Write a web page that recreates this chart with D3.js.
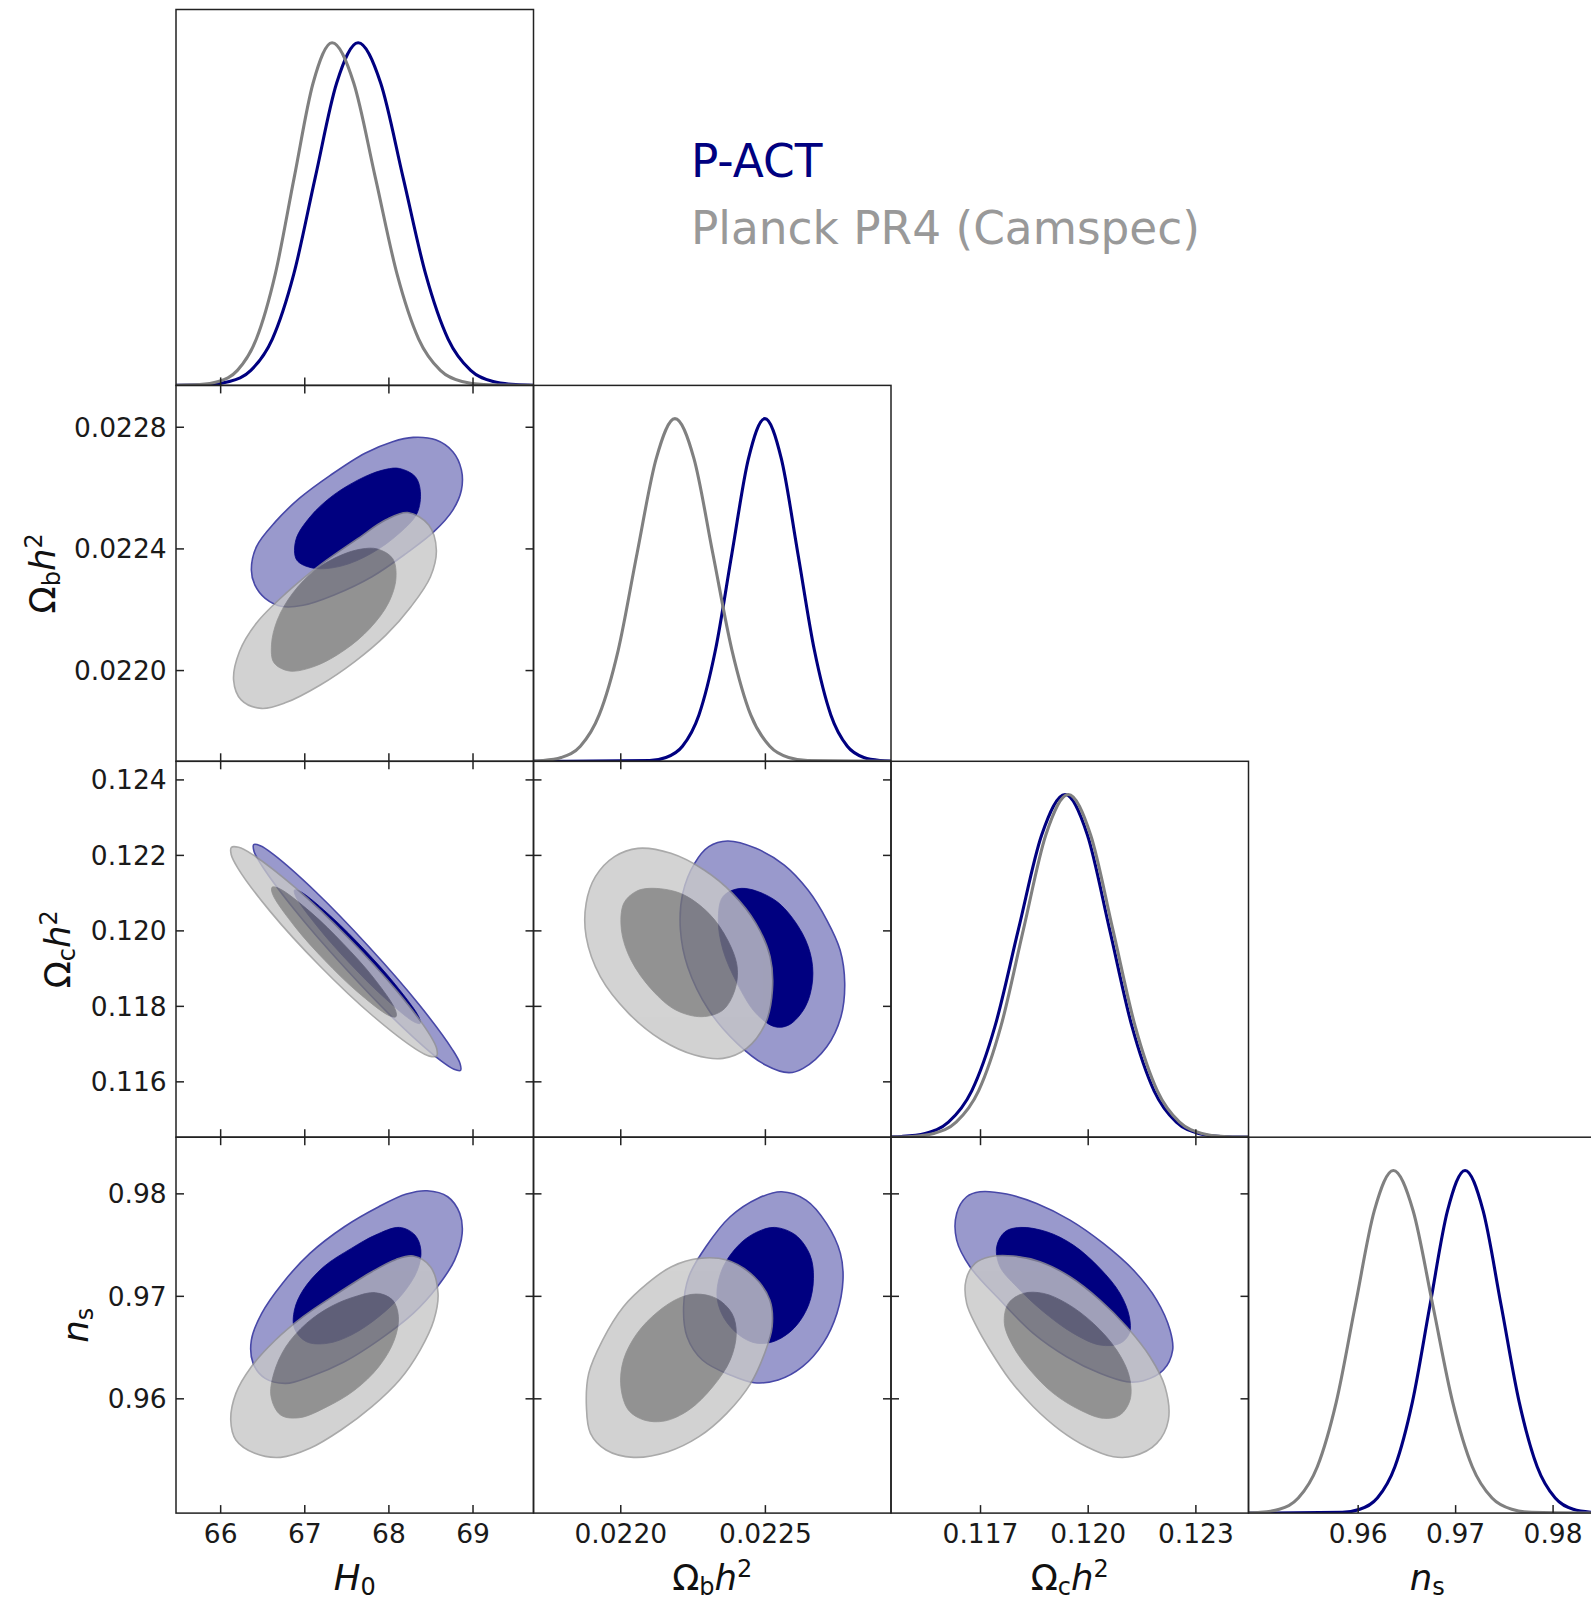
<!DOCTYPE html>
<html><head><meta charset="utf-8">
<script src="https://cdn.jsdelivr.net/npm/d3@7"></script>
<style>
html,body{margin:0;padding:0;background:#fff;}
svg{display:block;}
</style></head><body>
<svg id="chart" width="1591" height="1603"></svg>
<script>
// ================= DATA =================
const params = ["H0", "Obh2", "Och2", "ns"];
const domains = {H0: [65.475, 69.725], Obh2: [0.0217, 0.022936], Och2: [0.11452, 0.12448], ns: [0.9488, 0.98548]};

const xTicks = {H0: [66, 67, 68, 69], Obh2: [0.0220, 0.0225], Och2: [0.117, 0.120, 0.123], ns: [0.96, 0.97, 0.98]};
const xTickLabels = {H0: ["66", "67", "68", "69"], Obh2: ["0.0220", "0.0225"], Och2: ["0.117", "0.120", "0.123"], ns: ["0.96", "0.97", "0.98"]};
const yTicks = {Obh2: [0.0220, 0.0224, 0.0228], Och2: [0.116, 0.118, 0.120, 0.122, 0.124], ns: [0.96, 0.97, 0.98]};
const yTickLabels = {Obh2: ["0.0220", "0.0224", "0.0228"], Och2: ["0.116", "0.118", "0.120", "0.122", "0.124"], ns: ["0.96", "0.97", "0.98"]};

const seriesNames = ["P-ACT", "Planck PR4 (Camspec)"];

// ---- 1D marginals [value, normalised density] ----
const pact_H0_1d = [[65.475,0.0001],[65.855,0.0022],[66.11,0.0111],[66.365,0.0439],[66.62,0.1353],[66.875,0.3247],[67.13,0.6065],[67.385,0.8825],[67.64,1],[67.908,0.8825],[68.175,0.6065],[68.443,0.3247],[68.71,0.1353],[68.978,0.0439],[69.245,0.0111],[69.513,0.0022],[69.725,0.0005]];
const planck_H0_1d = [[65.475,0.0005],[65.755,0.0022],[65.98,0.0111],[66.205,0.0439],[66.43,0.1353],[66.655,0.3247],[66.88,0.6065],[67.105,0.8825],[67.33,1],[67.588,0.8825],[67.845,0.6065],[68.103,0.3247],[68.36,0.1353],[68.618,0.0439],[68.875,0.0111],[69.133,0.0022],[69.725,0.0001]];
const pact_Obh2_1d = [[0.0217,0],[0.022101,0.0022],[0.022158,0.0111],[0.022215,0.0439],[0.022272,0.1353],[0.022329,0.3247],[0.022386,0.6065],[0.022443,0.8825],[0.0225,1],[0.022557,0.8825],[0.022614,0.6065],[0.022671,0.3247],[0.022728,0.1353],[0.022785,0.0439],[0.022842,0.0111],[0.022899,0.0022],[0.022936,0.0007]];
const planck_Obh2_1d = [[0.0217,0.0009],[0.021731,0.0022],[0.021796,0.0111],[0.021862,0.0439],[0.021927,0.1353],[0.021993,0.3247],[0.022058,0.6065],[0.022124,0.8825],[0.022189,1],[0.022255,0.8825],[0.02232,0.6065],[0.022386,0.3247],[0.022451,0.1353],[0.022517,0.0439],[0.022582,0.0111],[0.022648,0.0022],[0.022936,0]];
const pact_Och2_1d = [[0.11452,0.0009],[0.11482,0.0022],[0.11547,0.0111],[0.11612,0.0439],[0.11677,0.1353],[0.11742,0.3247],[0.11807,0.6065],[0.11872,0.8825],[0.11937,1],[0.11999,0.8825],[0.12061,0.6065],[0.12123,0.3247],[0.12185,0.1353],[0.12247,0.0439],[0.12309,0.0111],[0.12371,0.0022],[0.12448,0.0001]];
const planck_Och2_1d = [[0.11452,0.0005],[0.115085,0.0022],[0.11571,0.0111],[0.116335,0.0439],[0.11696,0.1353],[0.117585,0.3247],[0.11821,0.6065],[0.118835,0.8825],[0.11946,1],[0.12008,0.8825],[0.1207,0.6065],[0.12132,0.3247],[0.12194,0.1353],[0.12256,0.0439],[0.12318,0.0111],[0.1238,0.0022],[0.12448,0.0003]];
const pact_ns_1d = [[0.9488,0],[0.95842,0.0022],[0.96022,0.0111],[0.96202,0.0439],[0.96382,0.1353],[0.96562,0.3247],[0.96742,0.6065],[0.96922,0.8825],[0.97102,1],[0.97287,0.8825],[0.97472,0.6065],[0.97657,0.3247],[0.97842,0.1353],[0.98027,0.0439],[0.98212,0.0111],[0.98397,0.0022],[0.98548,0.0003]];
const planck_ns_1d = [[0.9488,0.0008],[0.95001,0.0022],[0.95196,0.0111],[0.95391,0.0439],[0.95586,0.1353],[0.95781,0.3247],[0.95976,0.6065],[0.96171,0.8825],[0.96366,1],[0.96569,0.8825],[0.96771,0.6065],[0.96974,0.3247],[0.97176,0.1353],[0.97379,0.0439],[0.97581,0.0111],[0.97784,0.0022],[0.98548,0]];

// ---- 2D contours (68% inner, 95% outer), [x, y] in parameter units ----
const pact_H0_Obh2_outer = [[66.371,0.022329],[66.432,0.022406],[66.658,0.022488],[66.944,0.022565],[67.313,0.022641],[67.722,0.022713],[68.050,0.022751],[68.295,0.022765],[68.561,0.022757],[68.766,0.022718],[68.868,0.022658],[68.868,0.022592],[68.766,0.022526],[68.541,0.022455],[68.213,0.022384],[67.804,0.022307],[67.354,0.022247],[66.985,0.022213],[66.740,0.022209],[66.535,0.022236],[66.412,0.022280]];
const pact_H0_Obh2_inner = [[68.13,0.022663],[68.32,0.022636],[68.38,0.022587],[68.34,0.022515],[68.13,0.022450],[67.80,0.022384],[67.44,0.022342],[67.11,0.022335],[66.91,0.022362],[66.90,0.022428],[67.07,0.022504],[67.35,0.022576],[67.72,0.022636],[67.97,0.022660]];
const planck_H0_Obh2_outer = [[68.23,0.022518],[68.48,0.022477],[68.57,0.022395],[68.50,0.022307],[68.27,0.022209],[67.97,0.022115],[67.60,0.022028],[67.19,0.021951],[66.78,0.021893],[66.49,0.021874],[66.25,0.021902],[66.16,0.021967],[66.23,0.022061],[66.43,0.022154],[66.78,0.022252],[67.19,0.022346],[67.64,0.022433],[67.97,0.022494]];
const planck_H0_Obh2_inner = [[67.87,0.022398],[68.05,0.022367],[68.09,0.022302],[68.00,0.022220],[67.78,0.022137],[67.48,0.022066],[67.13,0.022013],[66.82,0.021997],[66.64,0.022024],[66.61,0.022083],[66.68,0.022165],[66.86,0.022252],[67.13,0.022329],[67.44,0.022378],[67.68,0.022398]];

const pact_H0_Och2_outer = [[68.857,0.116292],[68.852,0.116470],[68.763,0.116835],[68.364,0.118036],[67.768,0.119567],[67.135,0.121024],[66.633,0.122013],[66.477,0.122241],[66.399,0.122270],[66.403,0.122092],[66.493,0.121727],[66.892,0.120526],[67.488,0.118995],[68.121,0.117537],[68.623,0.116549],[68.780,0.116321]];
const pact_H0_Och2_inner = [[68.378,0.117535],[68.363,0.117702],[68.080,0.118573],[67.717,0.119485],[67.331,0.120343],[66.957,0.121024],[66.883,0.121070],[66.898,0.120900],[67.181,0.120031],[67.544,0.119119],[67.930,0.118261],[68.303,0.117577]];
const planck_H0_Och2_outer = [[68.573,0.116668],[68.575,0.116859],[68.495,0.117225],[68.109,0.118372],[67.523,0.119806],[66.890,0.121138],[66.381,0.122015],[66.219,0.122201],[66.134,0.122201],[66.131,0.122010],[66.212,0.121645],[66.597,0.120497],[67.183,0.119064],[67.817,0.117731],[68.326,0.116854],[68.487,0.116668]];
const planck_H0_Och2_inner = [[68.090,0.117712],[68.083,0.117892],[67.815,0.118767],[67.460,0.119654],[67.078,0.120478],[66.697,0.121115],[66.616,0.121141],[66.623,0.120961],[66.893,0.120086],[67.246,0.119199],[67.630,0.118375],[68.010,0.117739]];

const pact_Obh2_Och2_outer = [[0.022371,0.122368],[0.022469,0.122174],[0.022567,0.121732],[0.022649,0.121070],[0.022714,0.120275],[0.022760,0.119480],[0.022776,0.118597],[0.022763,0.117713],[0.022714,0.116918],[0.022632,0.116344],[0.022583,0.116230],[0.022502,0.116433],[0.022404,0.117007],[0.022306,0.117890],[0.022233,0.119038],[0.022208,0.120010],[0.022216,0.120981],[0.022257,0.121776],[0.022306,0.122218]];
const pact_Obh2_Och2_inner = [[0.022420,0.121114],[0.022534,0.120805],[0.022616,0.120098],[0.022657,0.119391],[0.022665,0.118685],[0.022640,0.117978],[0.022583,0.117493],[0.022534,0.117448],[0.022469,0.117802],[0.022404,0.118597],[0.022355,0.119480],[0.022339,0.120275],[0.022355,0.120893]];
const planck_Obh2_Och2_outer = [[0.022061,0.122174],[0.022175,0.122041],[0.022290,0.121599],[0.022388,0.120981],[0.022469,0.120186],[0.022518,0.119303],[0.022526,0.118420],[0.022502,0.117537],[0.022437,0.116874],[0.022355,0.116609],[0.022257,0.116698],[0.022143,0.117095],[0.022029,0.117802],[0.021931,0.118773],[0.021882,0.119833],[0.021882,0.120716],[0.021914,0.121423],[0.021980,0.121953]];
const planck_Obh2_Och2_inner = [[0.022102,0.121114],[0.022208,0.120981],[0.022306,0.120451],[0.022371,0.119745],[0.022404,0.119038],[0.022396,0.118420],[0.022355,0.117890],[0.022282,0.117713],[0.022192,0.117890],[0.022110,0.118420],[0.022037,0.119215],[0.022004,0.120010],[0.022012,0.120716],[0.022053,0.121025]];

const pact_H0_ns_outer = [[68.459,0.980254],[68.705,0.979669],[68.848,0.978043],[68.877,0.976092],[68.787,0.973491],[68.582,0.970890],[68.295,0.968288],[67.886,0.965687],[67.477,0.963573],[67.067,0.962110],[66.781,0.961460],[66.535,0.961947],[66.392,0.963411],[66.371,0.965687],[66.494,0.968288],[66.740,0.971215],[67.067,0.974141],[67.477,0.976743],[67.886,0.978694],[68.214,0.979929]];
const pact_H0_ns_inner = [[68.132,0.976678],[68.316,0.975930],[68.386,0.974466],[68.345,0.972515],[68.173,0.970239],[67.886,0.967963],[67.559,0.966175],[67.272,0.965362],[67.026,0.965524],[66.883,0.966825],[66.883,0.968613],[66.986,0.970564],[67.231,0.972841],[67.559,0.974629],[67.845,0.975930]];
const planck_H0_ns_outer = [[68.295,0.973881],[68.500,0.972841],[68.590,0.970239],[68.541,0.967638],[68.377,0.964711],[68.132,0.961785],[67.804,0.959183],[67.436,0.956907],[67.067,0.955119],[66.719,0.954241],[66.412,0.954631],[66.187,0.955932],[66.126,0.957883],[66.187,0.960484],[66.371,0.963085],[66.658,0.965687],[66.986,0.967963],[67.395,0.970239],[67.804,0.972353],[68.091,0.973556]];
const planck_H0_ns_inner = [[67.845,0.970304],[68.050,0.969589],[68.119,0.967963],[68.070,0.965687],[67.886,0.963085],[67.600,0.960809],[67.272,0.959183],[66.945,0.958110],[66.719,0.958371],[66.605,0.960159],[66.638,0.962435],[66.781,0.965036],[67.026,0.967313],[67.313,0.968939],[67.600,0.969914]];

const pact_Obh2_ns_outer = [[0.022558,0.980157],[0.022642,0.979344],[0.022713,0.977068],[0.022761,0.974141],[0.022770,0.971540],[0.022749,0.968288],[0.022701,0.965362],[0.022630,0.963085],[0.022546,0.961785],[0.022463,0.961525],[0.022380,0.962273],[0.022284,0.963736],[0.022231,0.966012],[0.022219,0.968939],[0.022237,0.971865],[0.022296,0.974792],[0.022380,0.977718],[0.022475,0.979507]];
const pact_Obh2_ns_inner = [[0.022534,0.976678],[0.022606,0.975930],[0.022656,0.973979],[0.022668,0.971702],[0.022651,0.969101],[0.022600,0.966825],[0.022528,0.965524],[0.022463,0.965427],[0.022397,0.966500],[0.022350,0.968288],[0.022334,0.970239],[0.022356,0.972841],[0.022415,0.975117],[0.022475,0.976255]];
const planck_Obh2_ns_outer = [[0.022272,0.973653],[0.022368,0.973491],[0.022463,0.971865],[0.022517,0.969589],[0.022525,0.966988],[0.022499,0.964386],[0.022451,0.961460],[0.022368,0.958533],[0.022272,0.956257],[0.022165,0.954794],[0.022046,0.954241],[0.021951,0.954956],[0.021897,0.956582],[0.021883,0.959183],[0.021891,0.962435],[0.021939,0.965687],[0.022011,0.968939],[0.022094,0.971215],[0.022177,0.972841]];
const planck_Obh2_ns_inner = [[0.022261,0.970174],[0.022332,0.969751],[0.022386,0.968288],[0.022401,0.966337],[0.022380,0.963736],[0.022320,0.961134],[0.022237,0.958858],[0.022153,0.957785],[0.022082,0.957883],[0.022028,0.958858],[0.022002,0.961134],[0.022011,0.963736],[0.022058,0.966337],[0.022130,0.968451],[0.022201,0.969751]];

const pact_Och2_ns_outer = [[0.117000,0.980156],[0.117743,0.979929],[0.118578,0.979018],[0.119507,0.977392],[0.120436,0.975116],[0.121272,0.972515],[0.121922,0.969588],[0.122293,0.966662],[0.122367,0.964711],[0.122107,0.962760],[0.121550,0.961719],[0.121086,0.961622],[0.120343,0.962435],[0.119414,0.964060],[0.118486,0.966337],[0.117557,0.969588],[0.116721,0.972840],[0.116350,0.975441],[0.116350,0.978043],[0.116628,0.979669]];
const pact_Och2_ns_inner = [[0.118114,0.976677],[0.118857,0.976254],[0.119600,0.974954],[0.120343,0.972677],[0.120900,0.970239],[0.121160,0.967963],[0.121160,0.966337],[0.120900,0.965361],[0.120343,0.965199],[0.119600,0.966337],[0.118764,0.968450],[0.118021,0.970889],[0.117557,0.972840],[0.117464,0.974791],[0.117696,0.976254]];
const planck_Och2_ns_outer = [[0.117278,0.973816],[0.117928,0.973881],[0.118671,0.973328],[0.119507,0.971865],[0.120343,0.969588],[0.121086,0.966987],[0.121736,0.964060],[0.122154,0.961134],[0.122247,0.957882],[0.121922,0.955606],[0.121272,0.954370],[0.120714,0.954305],[0.119971,0.955281],[0.119228,0.956907],[0.118486,0.959183],[0.117835,0.961784],[0.117278,0.964711],[0.116907,0.966987],[0.116628,0.969263],[0.116610,0.971539],[0.116860,0.973165]];
const planck_Och2_ns_inner = [[0.118207,0.970239],[0.118764,0.970239],[0.119414,0.969263],[0.120157,0.967312],[0.120807,0.964711],[0.121160,0.962109],[0.121179,0.959833],[0.120900,0.958370],[0.120436,0.958045],[0.119786,0.958858],[0.119043,0.960484],[0.118393,0.962760],[0.117928,0.965036],[0.117678,0.967312],[0.117789,0.969263]];

// ================= LAYOUT / STYLE =================
const L0 = 176, T0 = 9.5, CW = 357.5, CH = 375.9;
const NAVY = "#000080", GRAY_LINE = "#808080";
const FONT = "'DejaVu Sans', sans-serif";
const TICK_FS = 26.5, LABEL_FS = 35.5, SUB_FS = 24;
const AX = "#222";

const oneD = {
  H0:   [pact_H0_1d, planck_H0_1d],
  Obh2: [pact_Obh2_1d, planck_Obh2_1d],
  Och2: [pact_Och2_1d, planck_Och2_1d],
  ns:   [pact_ns_1d, planck_ns_1d]
};
const twoD = [
  {row:1, col:0, pact:[pact_H0_Obh2_outer, pact_H0_Obh2_inner], planck:[planck_H0_Obh2_outer, planck_H0_Obh2_inner]},
  {row:2, col:0, pact:[pact_H0_Och2_outer, pact_H0_Och2_inner], planck:[planck_H0_Och2_outer, planck_H0_Och2_inner]},
  {row:2, col:1, pact:[pact_Obh2_Och2_outer, pact_Obh2_Och2_inner], planck:[planck_Obh2_Och2_outer, planck_Obh2_Och2_inner]},
  {row:3, col:0, pact:[pact_H0_ns_outer, pact_H0_ns_inner], planck:[planck_H0_ns_outer, planck_H0_ns_inner]},
  {row:3, col:1, pact:[pact_Obh2_ns_outer, pact_Obh2_ns_inner], planck:[planck_Obh2_ns_outer, planck_Obh2_ns_inner]},
  {row:3, col:2, pact:[pact_Och2_ns_outer, pact_Och2_ns_inner], planck:[planck_Och2_ns_outer, planck_Och2_ns_inner]}
];

const labels = {
  H0:   [{t:"H", it:true}, {t:"0", sub:true}],
  Obh2: [{t:"Ω"}, {t:"b", sub:true}, {t:"h", it:true}, {t:"2", sup:true}],
  Och2: [{t:"Ω"}, {t:"c", sub:true}, {t:"h", it:true}, {t:"2", sup:true}],
  ns:   [{t:"n", it:true}, {t:"s", sub:true}]
};
const yLabelX = {1: 55, 2: 70, 3: 88};

// ================= DRAW =================
const svg = d3.select("#chart");
const xS = (p, c) => d3.scaleLinear().domain(domains[p]).range([L0 + c*CW, L0 + (c+1)*CW]);
const yS = (p, r) => d3.scaleLinear().domain(domains[p]).range([T0 + (r+1)*CH, T0 + r*CH]);
const defs = svg.append("defs");

function clipFor(r, c) {
  const id = `clip-${r}-${c}`;
  defs.append("clipPath").attr("id", id).append("rect")
    .attr("x", L0 + c*CW).attr("y", T0 + r*CH).attr("width", CW).attr("height", CH);
  return `url(#${id})`;
}

const closed = d3.line().curve(d3.curveCatmullRomClosed.alpha(0.5));

// 2D panels
twoD.forEach(pn => {
  const x = xS(params[pn.col], pn.col), y = yS(params[pn.row], pn.row);
  const g = svg.append("g").attr("clip-path", clipFor(pn.row, pn.col));
  const toPx = arr => arr.map(d => [x(d[0]), y(d[1])]);
  // P-ACT
  g.append("path").attr("d", closed(toPx(pn.pact[0]))).attr("fill", "#9999cc").attr("stroke", "none");
  g.append("path").attr("d", closed(toPx(pn.pact[1]))).attr("fill", NAVY).attr("stroke", NAVY).attr("stroke-width", 0.8);
  g.append("path").attr("d", closed(toPx(pn.pact[0]))).attr("fill", "none").attr("stroke", "#4848a8").attr("stroke-width", 1.6);
  // Planck (semi-transparent, on top)
  const gp = g.append("g").attr("opacity", 0.8);
  gp.append("path").attr("d", closed(toPx(pn.planck[0]))).attr("fill", "#c8c8c8").attr("stroke", "#959595").attr("stroke-width", 1.6);
  gp.append("path").attr("d", closed(toPx(pn.planck[1]))).attr("fill", "#777777").attr("stroke", "#777777").attr("stroke-width", 0.8);
});

// 1D panels
params.forEach((p, i) => {
  const x = xS(p, i);
  const y = d3.scaleLinear().domain([0, 1.097]).range([T0 + (i+1)*CH, T0 + i*CH]);
  const g = svg.append("g").attr("clip-path", clipFor(i, i));
  const line = d3.line().x(d => x(d[0])).y(d => y(d[1])).curve(d3.curveMonotoneX);
  const [pact, planck] = oneD[p];
  g.append("path").datum(pact).attr("d", line).attr("fill", "none").attr("stroke", NAVY).attr("stroke-width", 3.1);
  g.append("path").datum(planck).attr("d", line).attr("fill", "none").attr("stroke", GRAY_LINE).attr("stroke-width", 3.1);
});

// axes & spines
function styleAxis(sel) {
  sel.attr("font-family", FONT).attr("font-size", TICK_FS);
  sel.select(".domain").remove();
  sel.selectAll(".tick line").attr("stroke", AX).attr("stroke-width", 1.5);
  sel.selectAll(".tick text").attr("fill", "#1a1a1a");
}
const fmt = (vals, labs) => v => { const k = vals.findIndex(t => Math.abs(t - v) < 1e-9); return k >= 0 ? labs[k] : ""; };

for (let r = 0; r < 4; r++) {
  for (let c = 0; c <= r; c++) {
    const px = params[c], py = params[r];
    const x = xS(px, c);
    const x0 = L0 + c*CW, y0 = T0 + r*CH;
    const bottomLab = (r === 3);
    const ab = d3.axisBottom(x).tickValues(xTicks[px]).tickSizeInner(-8).tickSizeOuter(0)
      .tickPadding(10.7).tickFormat(bottomLab ? fmt(xTicks[px], xTickLabels[px]) : () => "");
    svg.append("g").attr("transform", `translate(0,${y0 + CH})`).call(ab).call(styleAxis);
    if (r !== c) {
      const y = yS(py, r);
      const at = d3.axisTop(x).tickValues(xTicks[px]).tickSizeInner(-8).tickSizeOuter(0).tickFormat(() => "");
      svg.append("g").attr("transform", `translate(0,${y0})`).call(at).call(styleAxis);
      const leftLab = (c === 0);
      const al = d3.axisLeft(y).tickValues(yTicks[py]).tickSizeInner(-8).tickSizeOuter(0)
        .tickPadding(9.3).tickFormat(leftLab ? fmt(yTicks[py], yTickLabels[py]) : () => "");
      const gl = svg.append("g").attr("transform", `translate(${x0},0)`).call(al).call(styleAxis);
      gl.selectAll(".tick text").attr("dy", "0.36em");
      const ar = d3.axisRight(y).tickValues(yTicks[py]).tickSizeInner(-8).tickSizeOuter(0).tickFormat(() => "");
      svg.append("g").attr("transform", `translate(${x0 + CW},0)`).call(ar).call(styleAxis);
    }
    svg.append("rect").attr("x", x0).attr("y", y0).attr("width", CW).attr("height", CH)
      .attr("fill", "none").attr("stroke", AX).attr("stroke-width", 1.5);
  }
}

// axis labels (math style)
function mathText(sel, parts) {
  let cur = 0;
  parts.forEach(pt => {
    const target = pt.sub ? 5 : (pt.sup ? -13 : 0);
    const ts = sel.append("tspan").text(pt.t)
      .attr("font-size", (pt.sub || pt.sup) ? SUB_FS : LABEL_FS)
      .attr("dy", target - cur);
    if (pt.it) ts.attr("font-style", "italic");
    cur = target;
  });
}
params.forEach((p, i) => {
  const t = svg.append("text").attr("x", L0 + (i + 0.5)*CW).attr("y", 1590)
    .attr("text-anchor", "middle").attr("font-family", FONT).attr("fill", "#111");
  mathText(t, labels[p]);
});
[1, 2, 3].forEach(r => {
  const cx = yLabelX[r], cy = T0 + (r + 0.5)*CH;
  const t = svg.append("text").attr("transform", `translate(${cx},${cy}) rotate(-90)`)
    .attr("text-anchor", "middle").attr("font-family", FONT).attr("fill", "#111");
  mathText(t, labels[params[r]]);
});

// legend
const legColors = [NAVY, "#999999"];
seriesNames.forEach((s, i) => {
  svg.append("text").attr("x", 691).attr("y", 177 + i*66.5)
    .attr("font-family", FONT).attr("font-size", 45.4).attr("fill", legColors[i]).text(s);
});
</script>
</body></html>
